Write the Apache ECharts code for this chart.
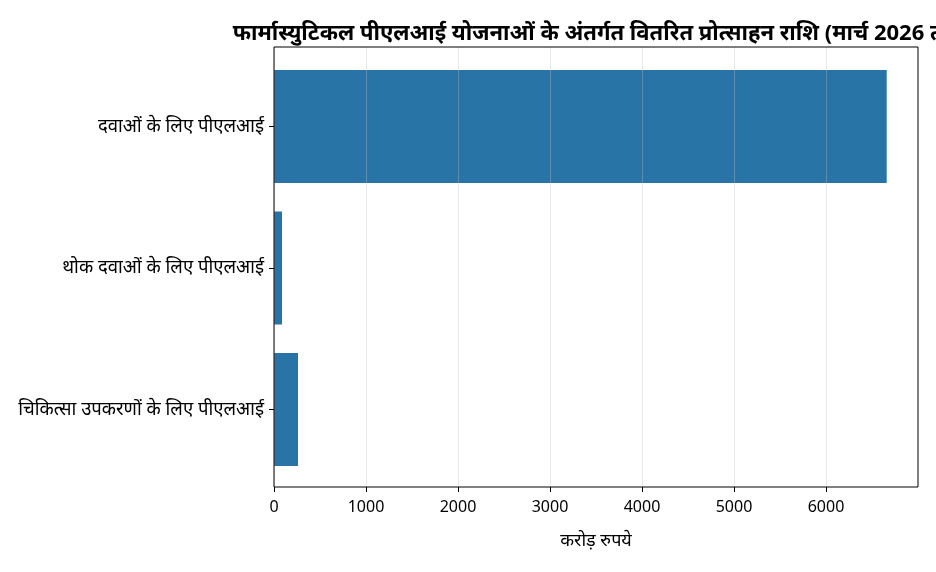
<!DOCTYPE html>
<html>
<head>
<meta charset="utf-8">
<script src="https://cdn.jsdelivr.net/npm/echarts@6/dist/echarts.min.js"></script>
<style>html,body{margin:0;padding:0;background:#fff}#c{width:936px;height:572px}</style>
</head>
<body>
<div id="c"></div>
<script>
const titleText = 'फार्मास्युटिकल पीएलआई योजनाओं के अंतर्गत वितरित प्रोत्साहन राशि (मार्च 2026 तक)';
const categories = ['दवाओं के लिए पीएलआई', 'थोक दवाओं के लिए पीएलआई', 'चिकित्सा उपकरणों के लिए पीएलआई'];
const values = [6660, 87, 261];
const xAxisName = 'करोड़ रुपये';
const xMax = 7000;
const xTicks = [0, 1000, 2000, 3000, 4000, 5000, 6000];

const font = "'Noto Sans', 'Noto Sans Devanagari', 'DejaVu Sans', sans-serif";
const chart = echarts.init(document.getElementById('c'));
const L = 274, R = 936 - 918, T = 47, B = 572 - 487;
const band = 141.5;
const innerT = 126.5 - band / 2;
const innerB = 572 - (409.5 + band / 2);

chart.setOption({
  animation: false,
  textStyle: { fontFamily: font },
  title: {
    text: titleText,
    left: 596, top: 18, textAlign: 'center',
    textStyle: { fontFamily: font, fontSize: 22, fontWeight: 'bold', color: '#000' }
  },
  grid: [
    { left: L, right: R, top: T, bottom: B, show: true, borderColor: '#000', borderWidth: 1, backgroundColor: 'transparent', z: 5 },
    { left: L, right: R, top: innerT, bottom: innerB }
  ],
  xAxis: [
    {
      gridIndex: 0, type: 'value', min: 0, max: xMax, interval: 1000,
      z: 4,
      axisLine: { show: false },
      axisTick: { show: true, length: 5, customValues: xTicks, lineStyle: { color: '#000' } },
      axisLabel: { color: '#000', fontSize: 16, margin: 12, fontFamily: font, customValues: xTicks,
        formatter: v => String(v) },
      splitLine: { show: true, lineStyle: { color: 'rgba(190,190,190,0.35)', width: 1 } },
      name: xAxisName, nameLocation: 'middle', nameGap: 45,
      nameTextStyle: { color: '#000', fontSize: 18, fontFamily: font }
    },
    {
      gridIndex: 1, type: 'value', min: 0, max: xMax,
      show: false
    }
  ],
  yAxis: [
    { gridIndex: 0, type: 'value', show: false, min: 0, max: 1 },
    {
      gridIndex: 1, type: 'category', data: categories, inverse: true,
      axisLine: { show: false },
      axisTick: { show: true, alignWithLabel: true, length: 5, lineStyle: { color: '#000' } },
      axisLabel: { color: '#000', fontSize: 18.5, margin: 10, fontFamily: font },
      splitLine: { show: false }
    }
  ],
  series: [{
    type: 'bar',
    xAxisIndex: 1, yAxisIndex: 1,
    data: values,
    barWidth: '80%',
    itemStyle: { color: '#2874A6' },
    z: 2
  }]
});
</script>
</body>
</html>
